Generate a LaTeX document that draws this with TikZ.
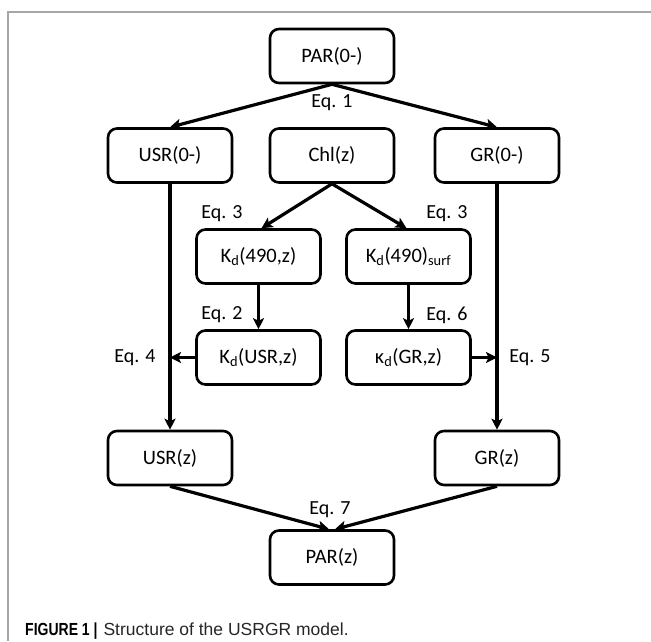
\documentclass[tikz,border=0pt]{standalone}
\usepackage{fontspec}
\setmainfont{Carlito}
\newfontfamily\capfont{Liberation Sans}
\usetikzlibrary{arrows.meta,calc}
\begin{document}
\begin{tikzpicture}[x=1pt,y=-1pt,
  box/.style={draw, line width=2.6pt, rounded corners=9pt, minimum width=124pt, minimum height=54pt, inner sep=0pt, font=\fontsize{20.5}{24}\selectfont, align=center},
  arr/.style={line width=3.2pt, -{Stealth[length=11pt,width=11pt,inset=2.5pt]}},
  eq/.style={font=\fontsize{20}{24}\selectfont, inner sep=0pt},
  frameline/.style={draw=black!35, line width=1.5pt}
]
\useasboundingbox (0,0) rectangle (651,641);
\coordinate (ftr) at (651,12);
\coordinate (ftl) at (8,12);
\coordinate (fbl) at (8,641);
\draw[frameline] (ftr) -- (ftl) -- (fbl);

\node[box] (PAR0) at (332,56) {PAR(0-)};
\node[box] (USR0) at (170,155.5) {USR(0-)};
\node[box] (Chl) at (332,155.5) {Chl(z)};
\node[box] (GR0) at (497,155.5) {GR(0-)};
\node[box] (Kdz) at (258.5,256.5) {K\textsubscript{d}(490,z)};
\node[box] (Kds) at (408.5,256.5) {K\textsubscript{d}(490)\textsubscript{surf}};
\node[box] (KdU) at (258.5,357.5) {K\textsubscript{d}(USR,z)};
\node[box] (kG) at (408.5,357.5) {κ\textsubscript{d}(GR,z)};
\node[box] (USRz) at (170,458) {USR(z)};
\node[box] (GRz) at (497,458) {GR(z)};
\node[box] (PARz) at (332,557.5) {PAR(z)};

\node[eq] (e1) at (332,103) {Eq. 1};
\node[eq] (e3a) at (222,214) {Eq. 3};
\node[eq] (e3b) at (447,214) {Eq. 3};
\node[eq] (e2) at (222,315) {Eq. 2};
\node[eq] (e6) at (447,315) {Eq. 6};
\node[eq] (e4) at (135,358) {Eq. 4};
\node[eq] (e5) at (530,358) {Eq. 5};
\node[eq] (e7) at (330,510) {Eq. 7};

\draw[arr] (PAR0.south) -- (USR0.north);
\draw[arr] (PAR0.south) -- (GR0.north);
\draw[arr] (Chl.south) -- ($(Kdz.north)+(3,0)$);
\draw[arr] (Chl.south) -- ($(Kds.north)+(-2,0)$);
\draw[arr] (USR0.south) -- (USRz.north);
\draw[arr] (GR0.south) -- (GRz.north);
\draw[arr] (Kdz.south) -- (KdU.north);
\draw[arr] (Kds.south) -- (kG.north);
\coordinate (jl) at (USR0.south |- KdU.west);
\coordinate (jr) at (GR0.south |- kG.east);
\draw[arr] (KdU.west) -- (jl);
\draw[arr] (kG.east) -- (jr);
\draw[arr] (USRz.south) -- ($(PARz.north)+(-3,0)$);
\draw[arr] (GRz.south) -- ($(PARz.north)+(3,0)$);

\node[anchor=base west, inner sep=0pt, font=\capfont\fontsize{17.5}{20}\selectfont] (cap) at (25,635) {\scalebox{0.8}[1]{\textbf{FIGURE 1 |}}\hspace{6pt}{\color{black!85}Structure of the USRGR model.}};
\end{tikzpicture}
\end{document}
